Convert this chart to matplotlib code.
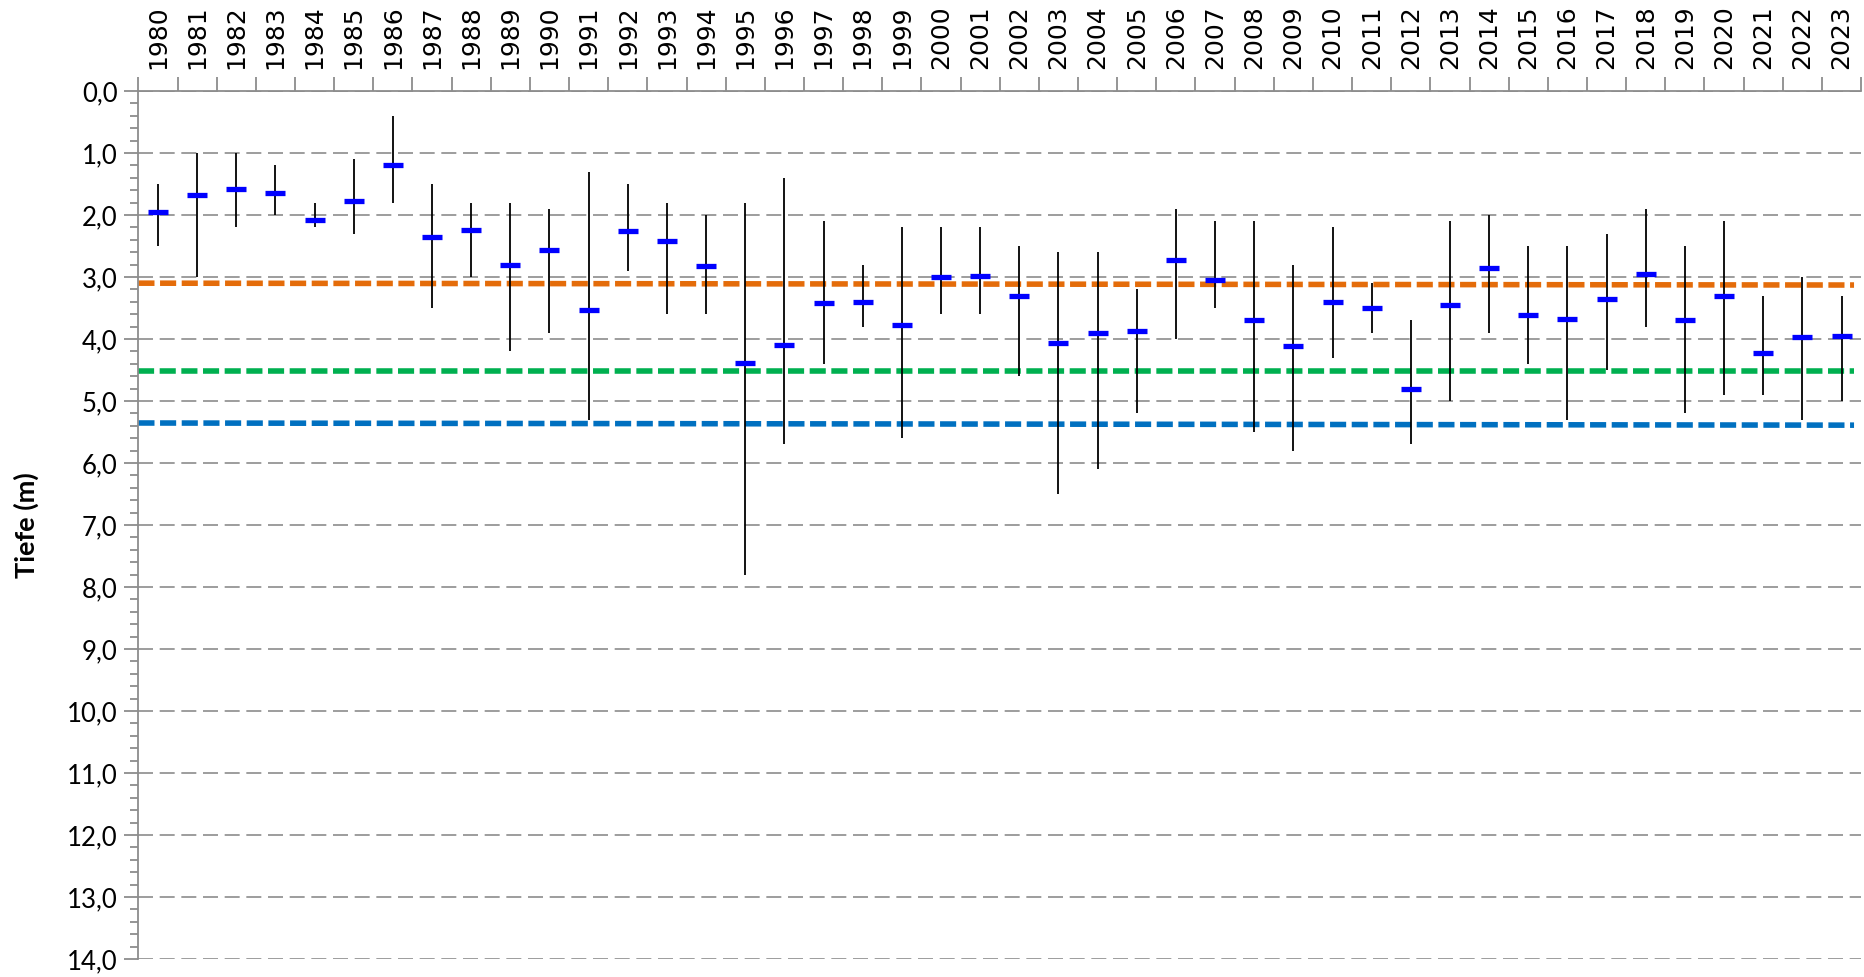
import numpy as np
import matplotlib.pyplot as plt
from matplotlib.ticker import MultipleLocator, FuncFormatter

years = list(range(1980, 2024))

# oberster / tiefster Wert pro Jahr (m) und Mittelwert
tiefe_min = [1.5, 1.0, 1.0, 1.2, 1.8, 1.1, 0.4, 1.5, 1.8, 1.8, 1.9, 1.3, 1.5, 1.8, 2.0,
             1.8, 1.4, 2.1, 2.8, 2.2, 2.2, 2.2, 2.5, 2.6, 2.6, 3.2, 1.9, 2.1, 2.1, 2.8,
             2.2, 3.1, 3.7, 2.1, 2.0, 2.5, 2.5, 2.3, 1.9, 2.5, 2.1, 3.3, 3.0, 3.3]
tiefe_max = [2.5, 3.0, 2.2, 2.0, 2.2, 2.3, 1.8, 3.5, 3.0, 4.2, 3.9, 5.3, 2.9, 3.6, 3.6,
             7.8, 5.7, 4.4, 3.8, 5.6, 3.6, 3.6, 4.6, 6.5, 6.1, 5.2, 4.0, 3.5, 5.5, 5.8,
             4.3, 3.9, 5.7, 5.0, 3.9, 4.4, 5.3, 4.5, 3.8, 5.2, 4.9, 4.9, 5.3, 5.0]
tiefe_mittel = [1.95, 1.67, 1.58, 1.65, 2.08, 1.77, 1.20, 2.35, 2.25, 2.81, 2.56, 3.53, 2.26, 2.42, 2.83,
                4.38, 4.09, 3.42, 3.40, 3.77, 3.00, 2.98, 3.30, 4.06, 3.90, 3.87, 2.73, 3.05, 3.69, 4.12,
                3.40, 3.50, 4.80, 3.45, 2.85, 3.61, 3.68, 3.35, 2.95, 3.70, 3.30, 4.22, 3.97, 3.95]

# Referenzlinien (Anfang, Ende)
linie_orange = [3.10, 3.13]
linie_gruen = [4.51, 4.51]
linie_blau = [5.355, 5.39]

x = np.arange(len(years))
grau = '#8c8c8c'

fig = plt.figure(figsize=(18.65, 9.77), dpi=100)
ax = fig.add_axes([0.0742, 0.0184, 0.9237, 0.8885])

ax.set_xlim(-0.5, len(years) - 0.5)
ax.set_ylim(14, 0)

# Gitternetz
for v in range(0, 15):
    ax.axhline(v, color=grau, lw=1.2, dashes=(9, 4), zorder=1)

xe = [-0.5, len(years) - 0.68]
ax.plot(xe, linie_orange, color='#E46C0A', lw=4, dashes=(2.9, 1.0), zorder=2)
ax.plot(xe, linie_gruen, color='#00B050', lw=4, dashes=(2.9, 1.0), zorder=2)
ax.plot(xe, linie_blau, color='#0070C0', lw=4, dashes=(2.9, 1.0), zorder=2)

ax.vlines(x, tiefe_min, tiefe_max, color='black', lw=1.3, zorder=3)
ax.plot(x, tiefe_mittel, ls='none', marker='_', ms=14.5, mew=3.8, color='#0000FF', zorder=4)

# Achsen
for s in ['bottom', 'right']:
    ax.spines[s].set_visible(False)
for s in ['left', 'top']:
    ax.spines[s].set_color(grau)
    ax.spines[s].set_linewidth(1.3)

ax.xaxis.tick_top()
ax.set_xticks(x)
ax.set_xticklabels([str(y) for y in years], rotation=90, fontsize=18,
                   family='DejaVu Sans')
ax.set_xticks(np.arange(-0.5, len(years)), minor=True)
ax.tick_params(axis='x', which='major', length=0, pad=16)
ax.tick_params(axis='x', which='minor', length=10, width=1.3, color=grau, top=True, bottom=False)

ax.yaxis.set_major_locator(MultipleLocator(1))
ax.yaxis.set_minor_locator(MultipleLocator(0.2))
ax.yaxis.set_major_formatter(FuncFormatter(lambda v, p: f'{v:.1f}'.replace('.', ',')))
ax.tick_params(axis='y', which='major', length=10, width=1.3, color=grau, labelsize=18.5, pad=5)
ax.tick_params(axis='y', which='minor', length=6, width=1.3, color=grau)
for lab in ax.get_yticklabels():
    lab.set_family('Lato')

ax.set_ylabel('Tiefe (m)', fontsize=19.5, fontweight='bold', family='Lato', labelpad=20)

fig.savefig('out.png', dpi=100)
